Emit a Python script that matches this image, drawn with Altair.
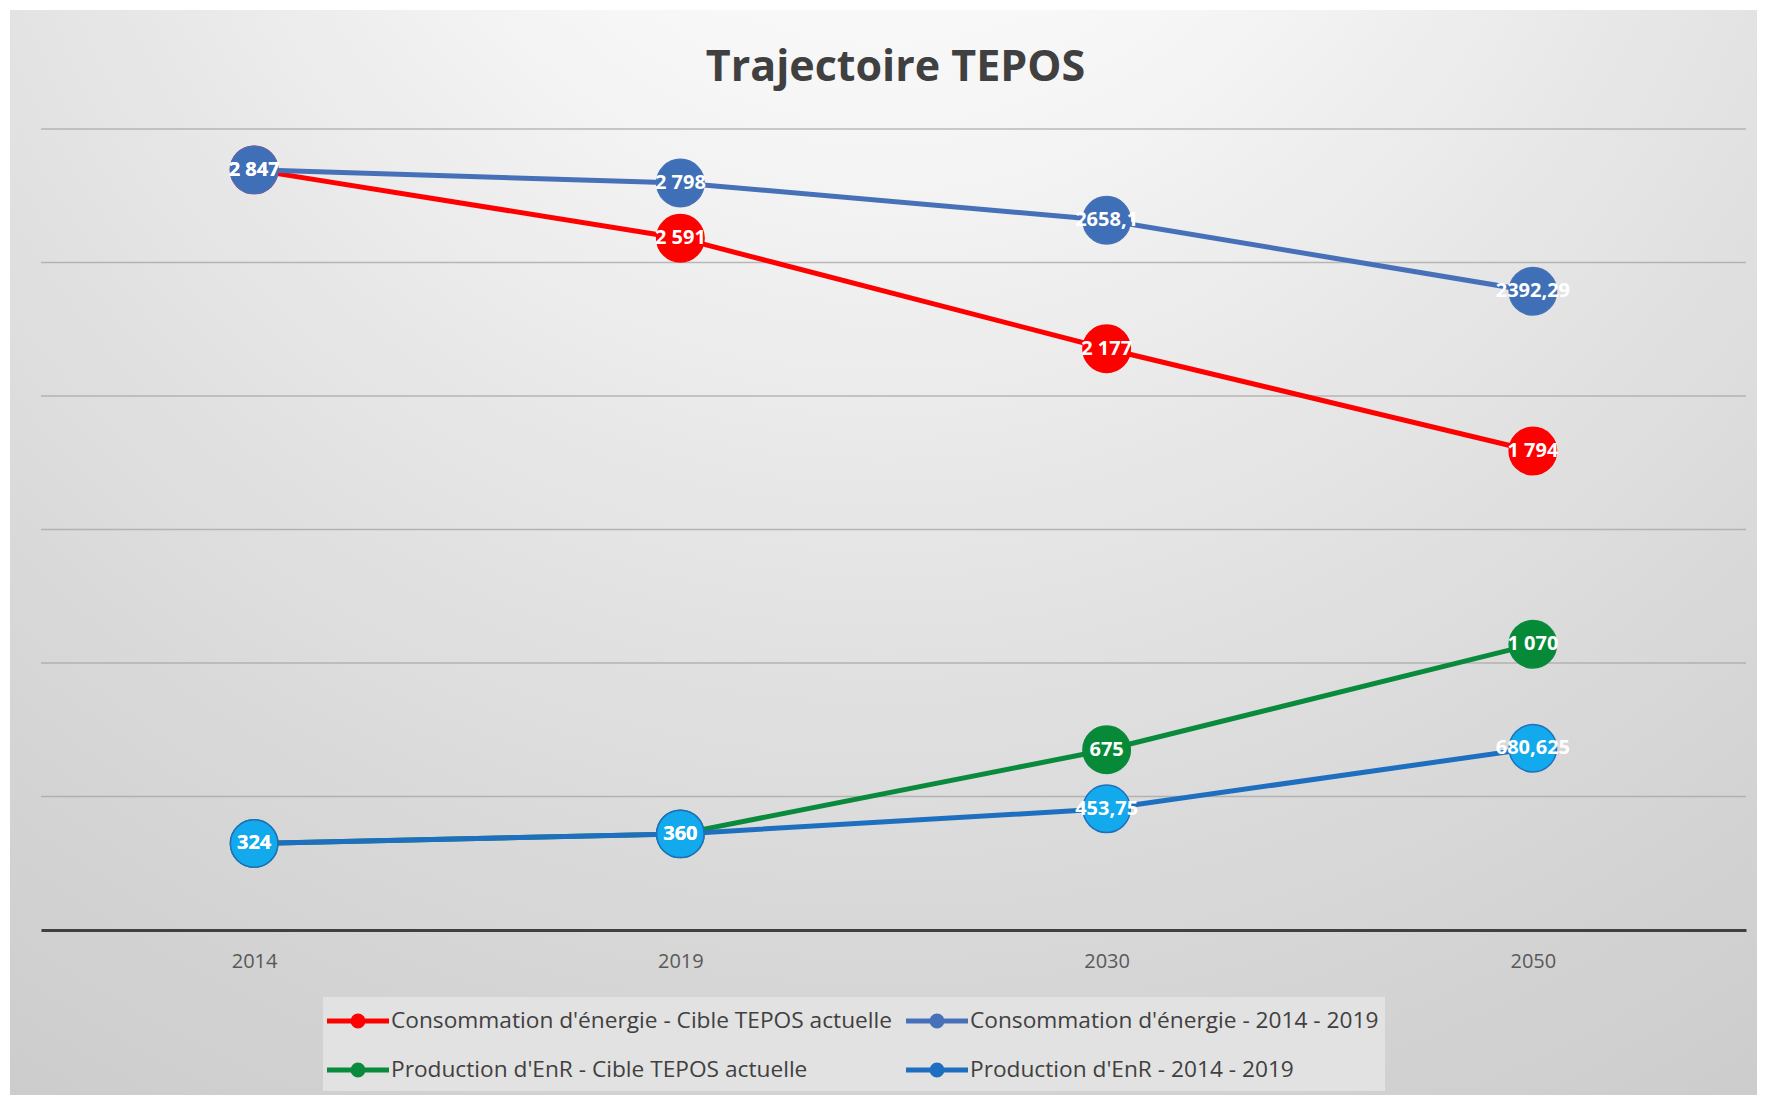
import altair as alt
import pandas as pd

title_text = ["Trajectoire TEPOS"]
years = ["2014", "2019", "2030", "2050"]
series_names = [
    "Consommation d'énergie - Cible TEPOS actuelle",
    "Consommation d'énergie - 2014 - 2019",
    "Production d'EnR - Cible TEPOS actuelle",
    "Production d'EnR - 2014 - 2019",
]
conso_cible = [2847, 2591, 2177, 1794]
conso_cible_labels = ["2 847", "2 591", "2 177", "1 794"]
conso_trend = [2847, 2798, 2658.1, 2392.29]
conso_trend_labels = ["2 847", "2 798", "2658,1", "2392,29"]
prod_cible = [324, 360, 675, 1070]
prod_cible_labels = ["324", "360", "675", "1 070"]
prod_trend = [324, 360, 453.75, 680.625]
prod_trend_labels = ["324", "360", "453,75", "680,625"]
grid_values = [500, 1000, 1500, 2000, 2500, 3000]

line_colors = ["#FF0000", "#4671B8", "#0A8A3C", "#1F6FC0"]
marker_colors = ["#FF0000", "#3F6FB6", "#078A38", "#12AAEC"]

rows = []
for i, (vals, labs) in enumerate([
    (conso_cible, conso_cible_labels),
    (conso_trend, conso_trend_labels),
    (prod_cible, prod_cible_labels),
    (prod_trend, prod_trend_labels),
]):
    for y, v, l in zip(years, vals, labs):
        rows.append({"series": series_names[i], "order": i, "year": y, "value": v, "label": l})
df = pd.DataFrame(rows)
grid_df = pd.DataFrame({"value": grid_values})

W, H = 1705, 801
PAD = {"left": 33, "top": 121, "right": 11, "bottom": 165}

bg = alt.Chart(pd.DataFrame({"a": [0]})).mark_rect(
    fill=alt.RadialGradient(
        gradient="radial", x1=0.5, y1=0.0, r1=0, x2=0.5, y2=0.0, r2=1.0,
        stops=[
            alt.GradientStop(offset=0, color="#ffffff"),
            alt.GradientStop(offset=0.25, color="#f6f6f6"),
            alt.GradientStop(offset=0.5, color="#e5e5e5"),
            alt.GradientStop(offset=0.75, color="#d6d6d6"),
            alt.GradientStop(offset=1, color="#cacaca"),
        ],
    )
).encode(
    x=alt.value(-31), x2=alt.value(W + 11), y=alt.value(-119), y2=alt.value(H + 165)
)

title = alt.Chart(pd.DataFrame({"t": title_text})).mark_text(
    font="Open Sans", fontSize=43, fontWeight="bold", color="#404040",
    align="center", baseline="middle",
).encode(text="t:N", x=alt.value(W / 2 + 2), y=alt.value(-61))

yscale = alt.Scale(domain=[0, 3000], nice=False, zero=True)

grid = alt.Chart(grid_df).mark_rule(color="#a4a4a4", strokeWidth=1.5, opacity=0.75).encode(
    y=alt.Y("value:Q", scale=yscale, axis=None),
    x=alt.value(0),
    x2=alt.value(W),
)

xenc = alt.X(
    "year:O",
    sort=years,
    scale=alt.Scale(type="point", padding=0.5),
    axis=alt.Axis(
        title=None, labelAngle=0, labelFont="Open Sans", labelFontSize=20,
        labelColor="#595959", labelPadding=21, ticks=False,
        domainColor="#404040", domainWidth=3, grid=False, zindex=1,
    ),
)
yenc = alt.Y("value:Q", scale=yscale, axis=None)

legend_path = "M-2,0L2,0M0.32,0A0.32,0.32,0,1,1,-0.32,0A0.32,0.32,0,1,1,0.32,0Z"


def make_legend():
    return alt.Legend(
        title=None, orient="none", legendX=282, legendY=868, columns=2,
        direction="horizontal",
        symbolType=legend_path, symbolSize=961, symbolStrokeWidth=5,
        symbolOpacity=1, symbolOffset=11,
        labelFont="Open Sans", labelFontSize=22.7, labelColor="#404040",
        labelOffset=15, labelLimit=0, fillColor="#e2e2e2", padding=6,
        rowPadding=16, columnPadding=4,
    )


lines = alt.Chart(df).mark_line(strokeWidth=5).encode(
    x=xenc,
    y=yenc,
    color=alt.Color(
        "series:N",
        sort=series_names,
        scale=alt.Scale(domain=series_names, range=line_colors),
        legend=make_legend(),
    ),
    order="order:Q",
)

points = alt.Chart(df).mark_point(filled=True, size=2250, opacity=1, strokeWidth=1.5, shape="circle").encode(
    x=xenc,
    y=yenc,
    fill=alt.Fill("series:N", sort=series_names,
                  scale=alt.Scale(domain=series_names, range=marker_colors), legend=make_legend()),
    stroke=alt.Stroke("series:N", scale=alt.Scale(domain=series_names, range=line_colors), legend=None),
)

texts = alt.Chart(df).mark_text(
    color="white", font="Open Sans", fontSize=20, fontWeight="bold",
    align="center", baseline="middle",
).encode(x=xenc, y=yenc, text="label:N")

chart = alt.layer(bg, title, grid, lines, points, texts).properties(
    width=W,
    height=H,
    autosize=alt.AutoSizeParams(type="none"),
    padding=PAD,
    background="white",
).configure_view(stroke=None)

chart.save("out.html", embed_options={"renderer": "svg", "actions": False})
